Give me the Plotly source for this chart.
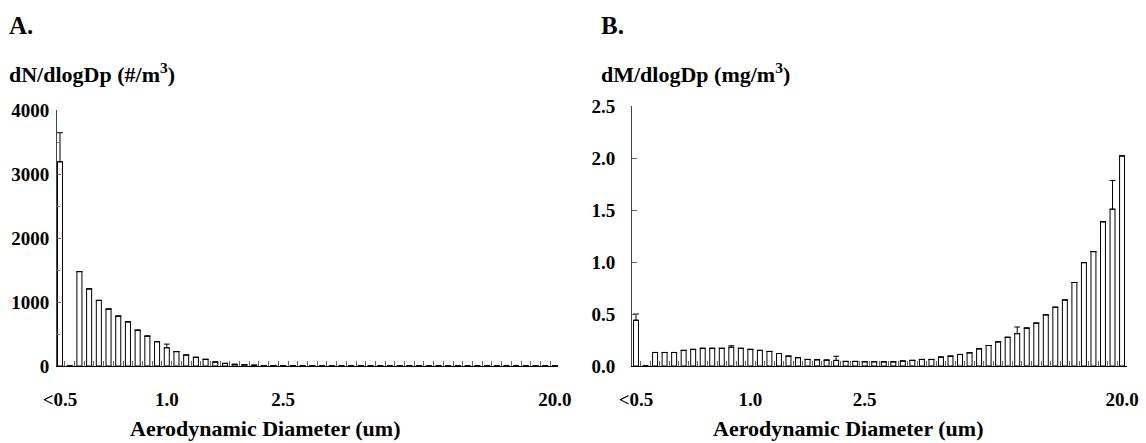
import plotly.graph_objects as go

# APS channel midpoints (um)
diameters = ["<0.523", "0.542", "0.583", "0.626", "0.673", "0.723", "0.777", "0.835",
             "0.898", "0.965", "1.037", "1.114", "1.197", "1.286", "1.382", "1.486",
             "1.596", "1.715", "1.843", "1.981", "2.129", "2.288", "2.458", "2.642",
             "2.839", "3.051", "3.278", "3.523", "3.786", "4.068", "4.371", "4.698",
             "5.048", "5.425", "5.829", "6.264", "6.732", "7.234", "7.774", "8.354",
             "8.977", "9.647", "10.37", "11.14", "11.97", "12.86", "13.82", "14.86",
             "15.96", "17.15", "18.43", "19.81"]

# Panel A: number distribution dN/dlogDp (#/m3)
number_conc = [3190, 0, 1475, 1205, 1025, 890, 780, 690, 560, 468,
               380, 285, 225, 172, 136, 104, 62, 41, 26, 20,
               12, 8, 6, 4, 3, 2, 2, 1, 1, 1,
               1, 1, 1, 1, 1, 1, 1, 1, 1, 1,
               1, 1, 1, 1, 1, 1, 1, 1, 1, 1,
               1, 1]
number_err = [455, 0, 0, 0, 0, 0, 0, 0, 0, 0,
              0, 57, 0, 0, 0, 0, 0, 0, 0, 0,
              0, 0, 0, 0, 0, 0, 0, 0, 0, 0,
              0, 0, 0, 0, 0, 0, 0, 0, 0, 0,
              0, 0, 0, 0, 0, 0, 0, 0, 0, 0,
              0, 0]

# Panel B: mass distribution dM/dlogDp (mg/m3)
mass_conc = [0.44, 0.0, 0.13, 0.13, 0.13, 0.15, 0.16, 0.17, 0.17, 0.17,
             0.18, 0.17, 0.16, 0.15, 0.14, 0.12, 0.095, 0.08, 0.063, 0.06,
             0.057, 0.054, 0.044, 0.044, 0.041, 0.041, 0.04, 0.04, 0.048, 0.054,
             0.063, 0.063, 0.086, 0.095, 0.111, 0.127, 0.165, 0.197, 0.232, 0.276,
             0.311, 0.365, 0.413, 0.492, 0.565, 0.635, 0.803, 0.994, 1.10, 1.387,
             1.508, 2.02]
mass_err = [0.06, 0, 0, 0, 0, 0, 0, 0, 0, 0,
            0.015, 0, 0, 0, 0, 0, 0, 0, 0, 0,
            0, 0.04, 0, 0, 0, 0, 0, 0, 0, 0,
            0, 0, 0, 0, 0, 0, 0, 0, 0, 0,
            0.064, 0, 0, 0, 0, 0, 0, 0, 0, 0,
            0.276, 0]

# tick labels (category -> text)
left_ticks = {"<0.523": "<0.5", "1.114": "1.0", "2.642": "2.5", "19.81": "20.0"}
right_ticks = {"<0.523": "<0.5", "1.197": "1.0", "2.839": "2.5", "19.81": "20.0"}

FONT = "Liberation Serif"
W, H = 1146, 443


def px_x(x):
    return x / W


def px_y(y):
    return (H - y) / H


fig = go.Figure()

bar_style = dict(marker=dict(color="white", line=dict(color="black", width=1)),
                 width=0.52, showlegend=False, hoverinfo="x+y")

fig.add_trace(go.Bar(x=diameters, y=number_conc, xaxis="x", yaxis="y",
                     error_y=dict(type="data", symmetric=False, array=number_err,
                                  arrayminus=[0] * len(number_err),
                                  color="black", thickness=1, width=3),
                     **bar_style))
fig.add_trace(go.Bar(x=diameters, y=mass_conc, xaxis="x2", yaxis="y2",
                     error_y=dict(type="data", symmetric=False, array=mass_err,
                                  arrayminus=[0] * len(mass_err),
                                  color="black", thickness=1, width=3),
                     **bar_style))


def xaxis_cfg(domain, rng, ticks_map, anchor):
    return dict(domain=domain, anchor=anchor, type="category",
                categoryorder="array", categoryarray=diameters,
                range=rng, tickmode="array", tickvals=diameters,
                ticktext=[ticks_map.get(d, "") for d in diameters],
                tickangle=0,
                tickson="boundaries", ticks="inside", ticklen=5,
                tickcolor="#666", tickwidth=1,
                showline=True, linecolor="black", linewidth=1,
                showgrid=False, zeroline=False, ticklabelstandoff=16,
                tickfont=dict(family=FONT, size=19, color="black", weight="bold"))


fig.update_layout(
    width=W, height=H, margin=dict(l=0, r=0, t=0, b=0, autoexpand=False),
    paper_bgcolor="white", plot_bgcolor="white", bargap=0.48,
    font=dict(family=FONT, color="black", weight="bold"),
    xaxis=xaxis_cfg([px_x(57), px_x(558)], [-0.31, 51.31], left_ticks, "y"),
    xaxis2=xaxis_cfg([px_x(632), px_x(1127)], [-0.42, 51.52], right_ticks, "y2"),
    yaxis=dict(domain=[px_y(366), px_y(110)], anchor="x", range=[0, 4000],
               tickvals=[0, 1000, 2000, 3000, 4000], ticks="inside", ticklen=4,
               tickcolor="#666", showline=True, linecolor="#444", linewidth=1,
               showgrid=False, zeroline=False, ticklabelstandoff=3,
               minor=dict(dtick=500, ticks="inside", ticklen=3, tickcolor="#888"),
               tickfont=dict(family=FONT, size=19, color="black", weight="bold")),
    yaxis2=dict(domain=[px_y(366), px_y(106)], anchor="x2", range=[0, 2.5],
                tickvals=[0, 0.5, 1.0, 1.5, 2.0, 2.5], tickformat=".1f",
                ticks="inside", ticklen=5, tickcolor="#666",
                showline=True, linecolor="#444", linewidth=1,
                showgrid=False, zeroline=False, ticklabelstandoff=12,
                tickfont=dict(family=FONT, size=19, color="black", weight="bold")),
)

ann_font = dict(family=FONT, color="black", weight="bold")
annotations = [
    dict(text="A.", x=px_x(8), y=px_y(25), size=25),
    dict(text="B.", x=px_x(600), y=px_y(25), size=25),
    dict(text="dN/dlogDp (#/m<sup>3</sup>)", x=px_x(8), y=px_y(73), size=22),
    dict(text="dM/dlogDp (mg/m<sup>3</sup>)", x=px_x(600), y=px_y(73), size=22),
]
for a in annotations:
    fig.add_annotation(text=a["text"], x=a["x"], y=a["y"], xref="paper", yref="paper",
                       xanchor="left", yanchor="middle", showarrow=False,
                       borderpad=0, font=dict(size=a["size"], **ann_font))

for cx in (265, 848):
    fig.add_annotation(text="Aerodynamic Diameter (um)", x=px_x(cx), y=px_y(428),
                       xref="paper", yref="paper", xanchor="center", yanchor="middle",
                       showarrow=False, borderpad=0, font=dict(size=22, **ann_font))

fig.write_html("out.html", config={"displayModeBar": False},
               post_script="document.body.style.margin='0';document.body.style.padding='0';")
